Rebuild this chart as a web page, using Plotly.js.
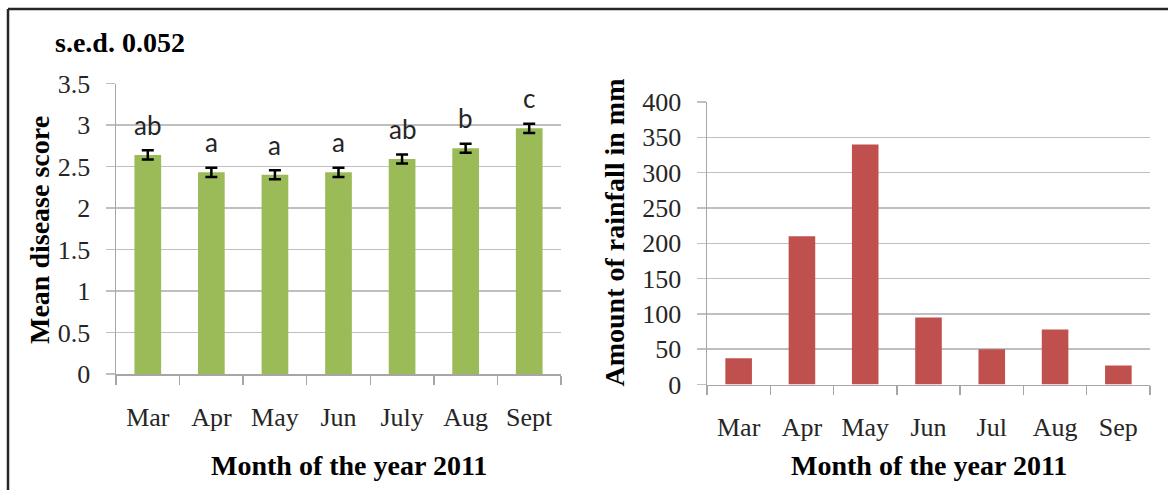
<!DOCTYPE html>
<html>
<head>
<meta charset="utf-8">
<script src="https://cdn.plot.ly/plotly-3.0.1.min.js"></script>
<style>html,body{margin:0;padding:0;background:#fff;}#chart{width:1168px;height:490px;}</style>
</head>
<body>
<div id="chart"></div>
<script>
// Left panel: mean disease score by month
const monthsLeft = ['Mar', 'Apr', 'May', 'Jun', 'July', 'Aug', 'Sept'];
const diseaseScore = [2.64, 2.43, 2.40, 2.43, 2.59, 2.72, 2.96];
const diseaseErr = [0.055, 0.055, 0.055, 0.055, 0.055, 0.055, 0.055];
const diseaseLetters = ['ab', 'a', 'a', 'a', 'ab', 'b', 'c'];
const leftTickVals = [0, 0.5, 1, 1.5, 2, 2.5, 3, 3.5];
const leftTickText = ['0', '0.5', '1', '1.5', '2', '2.5', '3', '3.5'];

// Right panel: rainfall by month
const monthsRight = ['Mar', 'Apr', 'May', 'Jun', 'Jul', 'Aug', 'Sep'];
const rainfall = [37, 210, 340, 95, 50, 78, 27];
const rightTickVals = [0, 50, 100, 150, 200, 250, 300, 350, 400];

const sedText = 's.e.d. 0.052';
const xTitleText = 'Month of the year 2011';
const yTitleLeft = 'Mean disease score';
const yTitleRight = 'Amount of rainfall in mm';

const W = 1168, H = 490;
const px = v => v / W;
const py = v => 1 - v / H;

const serif = 'Liberation Serif, Times New Roman, serif';
const gridC = '#bfbfbf';
const axisC = '#a6a6a6';
const tickFont = {family: serif, size: 26, color: '#262626'};
const titleFont = {family: serif, size: 28, color: '#000', weight: 'bold'};

const traces = [
  {
    type: 'bar', x: monthsLeft, y: diseaseScore, xaxis: 'x', yaxis: 'y',
    marker: {color: '#9bbb59'},
    error_y: {type: 'data', array: diseaseErr, visible: true, color: '#000', thickness: 2.5, width: 6},
    hoverinfo: 'none'
  },
  {
    type: 'bar', x: monthsRight, y: rainfall, xaxis: 'x2', yaxis: 'y2',
    marker: {color: '#c0504d'},
    hoverinfo: 'none'
  }
];

const commonX = {
  type: 'category', showgrid: false, showline: true, linecolor: axisC, linewidth: 1.5,
  ticks: 'outside', tickson: 'boundaries', ticklen: 9, tickcolor: axisC, tickwidth: 1.5,
  tickfont: tickFont, ticklabelstandoff: 19, fixedrange: true
};
const commonY = {
  showgrid: true, gridcolor: gridC, gridwidth: 1.5, showline: true, linecolor: axisC, linewidth: 1.5,
  zeroline: false, ticks: 'outside', ticklen: 9, tickcolor: gridC, tickwidth: 1.5,
  tickfont: tickFont, ticklabelstandoff: 10, fixedrange: true
};

const annotations = [];
monthsLeft.forEach((m, i) => {
  annotations.push({
    xref: 'x', yref: 'y', x: m, y: diseaseScore[i], text: diseaseLetters[i],
    showarrow: false, yanchor: 'bottom', yshift: 12,
    font: {family: 'Lato, Noto Sans, sans-serif', size: 26, color: '#262626'}
  });
});
annotations.push({xref: 'paper', yref: 'paper', x: px(53), y: py(42), xanchor: 'left', yanchor: 'middle',
  text: '<b>' + sedText + '</b>', showarrow: false, font: {family: serif, size: 28, color: '#000'}});
annotations.push({xref: 'paper', yref: 'paper', x: px(349), y: py(465), xanchor: 'center', yanchor: 'middle',
  text: '<b>' + xTitleText + '</b>', showarrow: false, font: titleFont});
annotations.push({xref: 'paper', yref: 'paper', x: px(928.5), y: py(465), xanchor: 'center', yanchor: 'middle',
  text: '<b>' + xTitleText + '</b>', showarrow: false, font: titleFont});
annotations.push({xref: 'paper', yref: 'paper', x: px(39), y: py(230), xanchor: 'center', yanchor: 'middle',
  text: '<b>' + yTitleLeft + '</b>', textangle: -90, showarrow: false, font: titleFont});
annotations.push({xref: 'paper', yref: 'paper', x: px(614.5), y: py(233), xanchor: 'center', yanchor: 'middle',
  text: '<b>' + yTitleRight + '</b>', textangle: -90, showarrow: false, font: titleFont});

const layout = {
  width: W, height: H,
  margin: {l: 0, r: 0, t: 0, b: 0},
  paper_bgcolor: '#fff', plot_bgcolor: '#fff',
  showlegend: false,
  bargap: 0.58,
  xaxis: Object.assign({}, commonX, {domain: [px(116), px(561)], anchor: 'y'}),
  yaxis: Object.assign({}, commonY, {domain: [py(374), py(83.5)], range: [0, 3.5], anchor: 'x',
    tickmode: 'array', tickvals: leftTickVals, ticktext: leftTickText}),
  xaxis2: Object.assign({}, commonX, {domain: [px(707), px(1150)], anchor: 'y2'}),
  yaxis2: Object.assign({}, commonY, {domain: [py(384.5), py(102)], range: [0, 400], anchor: 'x2',
    tickmode: 'array', tickvals: rightTickVals}),
  annotations: annotations,
  shapes: [
    {type: 'line', xref: 'paper', yref: 'paper', x0: px(8), x1: 1, y0: py(9), y1: py(9), line: {color: '#262626', width: 2.5}},
    {type: 'line', xref: 'paper', yref: 'paper', x0: px(8), x1: px(8), y0: py(9), y1: 0, line: {color: '#262626', width: 2.5}}
  ]
};

Plotly.newPlot('chart', traces, layout, {staticPlot: true, displayModeBar: false});
</script>
</body>
</html>
